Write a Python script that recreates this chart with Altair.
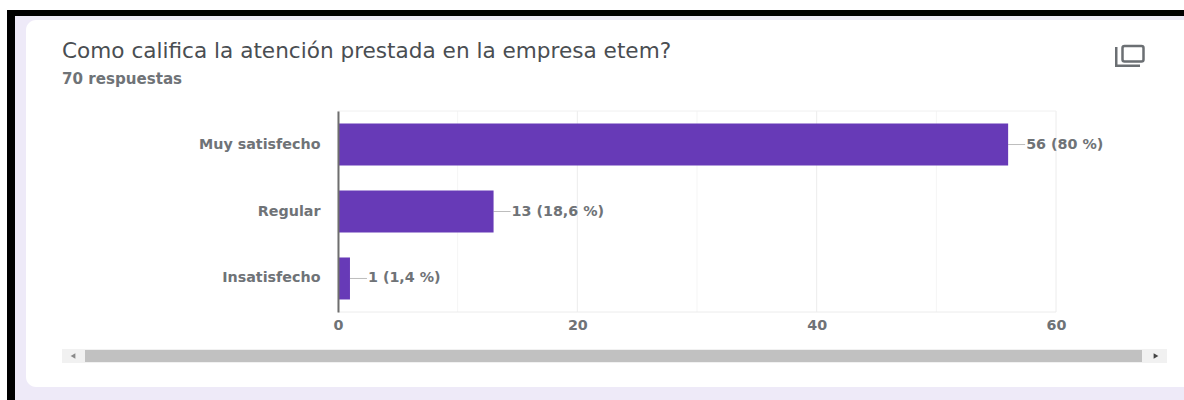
import altair as alt
import pandas as pd

# Survey answers
categories = ["Muy satisfecho", "Regular", "Insatisfecho"]
counts = [56, 13, 1]
value_labels = ["56 (80 %)", "13 (18,6 %)", "1 (1,4 %)"]
major_ticks = [0, 20, 40, 60]
minor_ticks = [10, 30, 50]
title_text = "Como califica la atención prestada en la empresa etem?"
subtitle_text = "70 respuestas"

BAR = "#673ab7"
TEXT = "#6f7377"
FONT = "DejaVu Sans"
LABEL_SIZE = 14.3

# The plot area sits inside the page, so page furniture is placed
# relative to its origin (negative pixels reach into the padding).
LEFT, TOP, W, H = 338, 111, 718, 201
PAGE_W, PAGE_H = 1184, 400

df = pd.DataFrame({"cat": categories, "n": counts, "label": value_labels})
one = pd.DataFrame({"k": [0]})

x_scale = alt.Scale(domain=[0, 60], range=[0, W], nice=False)
y_scale = alt.Scale(domain=categories, paddingInner=0.373, paddingOuter=0.187)
x_axis = alt.Axis(
    values=major_ticks, grid=False, domain=False, ticks=False, title=None, labelFont=FONT,
    labelFontSize=LABEL_SIZE, labelFontWeight="bold", labelColor=TEXT, labelPadding=6,
    labelFlush=False, zindex=1,
)


def box(x0, y0, x1, y1, color, radius=0):
    """Rectangle given in page pixels."""
    return alt.Chart(one).mark_rect(color=color, cornerRadius=radius, clip=False).encode(
        x=alt.value(x0 - LEFT), x2=alt.value(x1 - LEFT),
        y=alt.value(y0 - TOP), y2=alt.value(y1 - TOP),
    )


def caption(x0, y0, text, size, color=TEXT, weight="normal"):
    return alt.Chart(one).mark_text(
        align="left", baseline="middle", font=FONT, fontSize=size, color=color, fontWeight=weight
    ).encode(x=alt.value(x0 - LEFT), y=alt.value(y0 - TOP), text=alt.value(text))


def outline(x0, y0, x1, y1, color, width, fill="transparent", radius=1.5):
    return alt.Chart(one).mark_rect(
        fill=fill, stroke=color, strokeWidth=width, cornerRadius=radius
    ).encode(
        x=alt.value(x0 - LEFT), x2=alt.value(x1 - LEFT),
        y=alt.value(y0 - TOP), y2=alt.value(y1 - TOP),
    )


def arrow(x0, y0, shape, color):
    return alt.Chart(one).mark_point(
        shape=shape, filled=True, size=30, color=color, opacity=1
    ).encode(x=alt.value(x0 - LEFT), y=alt.value(y0 - TOP))


page = [
    box(7, 10, PAGE_W, PAGE_H, "#eeeaf8"),
    box(7, 10, PAGE_W, 16, "#000000"),
    box(7, 10, 15, PAGE_H, "#000000"),
    box(26, 20, PAGE_W + 12, 387, "#ffffff", 10),
    # scrollbar under the plot
    box(62, 349, 1167, 363, "#f1f1f1"),
    box(85, 350, 1142, 362, "#c1c1c1"),
    arrow(73, 356, "triangle-left", "#8a8a8a"),
    arrow(1156, 356, "triangle-right", "#444444"),
    # copy icon: an L behind a rounded square
    box(1115, 47, 1117.5, 67, "#6b6f73"),
    box(1115, 64.5, 1140, 67, "#6b6f73"),
    outline(1122.5, 46, 1143.5, 61.5, "#6b6f73", 2.5, fill="#ffffff", radius=2),
    caption(62, 52, title_text, 21.6, "#4a4e52"),
    caption(62, 79, subtitle_text, 15.1, weight="bold"),
]

grid_major = alt.Chart(pd.DataFrame({"t": major_ticks})).mark_rule(
    color="#ececec", strokeWidth=1
).encode(x=alt.X("t:Q", scale=x_scale, axis=x_axis))
grid_minor = alt.Chart(pd.DataFrame({"t": minor_ticks})).mark_rule(
    color="#f5f5f5", strokeWidth=1
).encode(x=alt.X("t:Q", scale=x_scale, axis=x_axis))
frame_top = alt.Chart(one).mark_rule(color="#f0f0f0").encode(
    x=alt.value(0), x2=alt.value(W), y=alt.value(0)
)
frame_bottom = alt.Chart(one).mark_rule(color="#ececec").encode(
    x=alt.value(0), x2=alt.value(W), y=alt.value(H)
)

base = alt.Chart(df)

bars = base.mark_bar(color=BAR).encode(
    x=alt.X("n:Q", scale=x_scale, axis=x_axis),
    y=alt.Y(
        "cat:N", scale=y_scale, sort=categories, title=None,
        axis=alt.Axis(
            grid=False, ticks=False, domain=True, domainColor="#6e6e6e", domainWidth=2,
            labelFont=FONT, labelFontSize=LABEL_SIZE, labelFontWeight="bold", labelColor=TEXT,
            labelPadding=18, labelLimit=200, zindex=1,
        ),
    ),
)

leaders = base.mark_rule(color="#bdbdbd", strokeWidth=1, x2Offset=17).encode(
    x=alt.X("n:Q", scale=x_scale, axis=x_axis),
    x2=alt.X2("n:Q"),
    y=alt.Y("cat:N", scale=y_scale, sort=categories),
)

labels = base.mark_text(
    align="left", baseline="middle", dx=18, font=FONT, fontSize=LABEL_SIZE,
    fontWeight="bold", color=TEXT,
).encode(
    x=alt.X("n:Q", scale=x_scale, axis=x_axis),
    y=alt.Y("cat:N", scale=y_scale, sort=categories),
    text="label:N",
)

chart = alt.layer(
    *page, grid_minor, grid_major, frame_top, frame_bottom, leaders, bars, labels
).properties(
    width=W,
    height=H,
    autosize=alt.AutoSizeParams(type="none"),
    padding={"left": LEFT, "top": TOP, "right": PAGE_W - LEFT - W, "bottom": PAGE_H - TOP - H},
    background="#ffffff",
).configure_view(stroke=None)

chart.save("out.html", embed_options={"renderer": "svg", "actions": False})
